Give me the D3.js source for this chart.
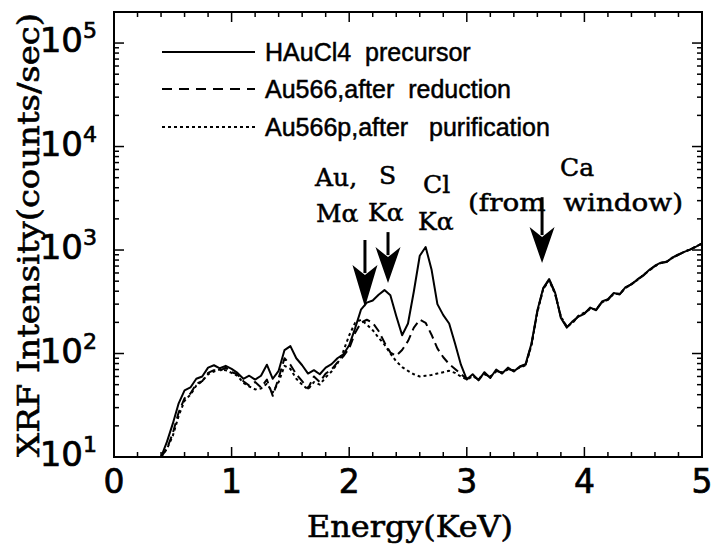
<!DOCTYPE html>
<html>
<head>
<meta charset="utf-8">
<script src="https://cdn.jsdelivr.net/npm/d3@7"></script>
<style>
    html, body { margin: 0; padding: 0; background: #fff; }
    #chart { width: 716px; height: 544px; }
</style>
</head>
<body>
<div id="chart"></div>
<script>
var energies = [0.40, 0.45, 0.50, 0.55, 0.60, 0.65, 0.70, 0.75, 0.80, 0.85, 0.90, 0.95,
    1.00, 1.05, 1.10, 1.15, 1.20, 1.25, 1.30, 1.35, 1.40, 1.45, 1.50, 1.55, 1.60, 1.65, 1.70, 1.75, 1.80, 1.85, 1.90, 1.95,
    2.00, 2.05, 2.10, 2.15, 2.20, 2.25, 2.30, 2.35, 2.40, 2.45, 2.50, 2.55, 2.60, 2.65, 2.70, 2.75, 2.80, 2.85, 2.90, 2.95,
    3.00, 3.05, 3.10, 3.15, 3.20, 3.25, 3.30, 3.35, 3.40, 3.45, 3.50, 3.55, 3.60, 3.65, 3.70, 3.75, 3.80, 3.85, 3.90, 3.95,
    4.00, 4.05, 4.10, 4.15, 4.20, 4.25, 4.30, 4.35, 4.40, 4.45, 4.50, 4.55, 4.60, 4.65, 4.70, 4.75, 4.80, 4.85, 4.90, 4.95,
    5.00];

var precursorCounts = [10, 14, 21, 33, 44, 47, 57, 60, 73, 77, 72, 76,
    71, 65, 57, 61, 56, 61, 78, 57, 68, 108, 118, 90, 77, 64, 69, 63, 73, 79, 90, 98,
    120, 175, 265, 310, 325, 370, 410, 365, 230, 150, 195, 400, 880, 1070, 650, 300, 235, 195, 125, 78,
    56, 63, 55, 66, 58, 70, 64, 73, 67, 75, 79, 125, 260, 430, 525, 390, 220, 178, 205, 228,
    242, 278, 262, 318, 335, 385, 372, 438, 465, 520, 565, 640, 705, 755, 765, 850, 905, 960, 1015, 1080,
    1160];

var reductionCounts = [10, 12, 17, 27, 37, 41, 51, 54, 65, 69, 68, 73,
    66, 63, 54, 49, 53, 47, 56, 39, 58, 90, 78, 63, 54, 46, 60, 53, 64, 70, 82, 94,
    112, 158, 198, 212, 198, 165, 128, 102, 95, 108, 132, 178, 212, 198, 152, 112, 92, 79, 71, 63,
    57, 61, 56, 64, 59, 68, 65, 71, 68, 74, 78, 122, 255, 425, 515, 385, 225, 180, 200, 230,
    245, 272, 265, 315, 330, 380, 375, 432, 468, 515, 570, 635, 700, 750, 770, 845, 900, 965, 1010, 1085,
    1150];

var purificationCounts = [10, 12, 16, 25, 35, 40, 49, 54, 63, 67, 70, 69,
    65, 61, 52, 48, 45, 46, 51, 42, 53, 76, 71, 57, 50, 45, 53, 50, 59, 67, 80, 105,
    150, 198, 212, 190, 168, 142, 122, 100, 84, 74, 68, 63, 60, 61, 62, 64, 66, 68, 65, 60,
    56, 60, 57, 63, 60, 67, 66, 70, 69, 73, 77, 120, 250, 420, 510, 380, 228, 182, 198, 232,
    248, 270, 268, 312, 332, 378, 378, 430, 470, 512, 572, 632, 698, 748, 775, 840, 905, 962, 1012, 1082,
    1152];

var seriesNames = ["HAuCl4  precursor", "Au566,after  reduction", "Au566p,after   purification"];
var xTickValues = [0, 1, 2, 3, 4, 5];
var yTickExponents = [1, 2, 3, 4, 5];

// arrows: energy, tail counts, tip counts
var arrowEnergies = [2.134, 2.33, 3.64];
var arrowTails = [1250, 1490, 3240];
var arrowTips = [281, 479, 748];

var XrfChart;
(function (XrfChart) {
    var Chart = (function () {
        function Chart() {
            this.svg = d3.select("#chart").append("svg").attr("width", 716).attr("height", 544);
            this.x = d3.scaleLinear().domain([0, 5]).range([114, 702]);
            this.y = d3.scaleLog().domain([10, Math.pow(10, 5.3)]).range([457, 12]);
            this.drawFrame();
            this.drawTicks();
            this.drawSeries();
            this.drawLegend();
            this.drawAnnotations();
        }

        Chart.prototype.drawFrame = function () {
            var x = this.x, y = this.y;
            this.svg.append("rect")
                .attr("x", x(0)).attr("y", y.range()[1])
                .attr("width", x(5) - x(0)).attr("height", y.range()[0] - y.range()[1])
                .attr("fill", "none").attr("stroke", "#000").attr("stroke-width", 2);
        };

        Chart.prototype.drawTicks = function () {
            var x = this.x, y = this.y, svg = this.svg;
            var top = y.range()[1], bottom = y.range()[0];
            var left = x(0), right = x(5);

            var xMinor = d3.range(0, 5.001, 0.2);
            var xg = svg.append("g").attr("stroke", "#000").attr("stroke-width", 1.5);
            xMinor.forEach(function (v) {
                var major = Math.abs(v - Math.round(v)) < 1e-6;
                var len = major ? 10 : 5;
                xg.append("line").attr("x1", x(v)).attr("x2", x(v)).attr("y1", bottom).attr("y2", bottom - len);
                xg.append("line").attr("x1", x(v)).attr("x2", x(v)).attr("y1", top).attr("y2", top + len);
            });

            var yg = svg.append("g").attr("stroke", "#000").attr("stroke-width", 1.5);
            for (var e = 1; e <= 5; e++) {
                for (var m = 1; m <= 9; m++) {
                    var v = m * Math.pow(10, e);
                    if (v > y.domain()[1]) continue;
                    var len = m === 1 ? 10 : 5;
                    yg.append("line").attr("x1", left).attr("x2", left + len).attr("y1", y(v)).attr("y2", y(v));
                    yg.append("line").attr("x1", right).attr("x2", right - len).attr("y1", y(v)).attr("y2", y(v));
                }
            }

            svg.append("g").selectAll("text").data(xTickValues).enter().append("text")
                .attr("x", function (d) { return x(d); })
                .attr("y", 493)
                .attr("text-anchor", "middle")
                .attr("font-family", "DejaVu Sans, sans-serif")
                .attr("font-size", 33)
                .attr("stroke", "#000").attr("stroke-width", 0.7)
                .text(function (d) { return d; });

            var ylab = svg.append("g").selectAll("text").data(yTickExponents).enter().append("text")
                .attr("x", 97)
                .attr("y", function (d) { return y(Math.pow(10, d)) + 9; })
                .attr("text-anchor", "end")
                .attr("font-family", "DejaVu Sans, sans-serif")
                .attr("font-size", 34)
                .attr("stroke", "#000").attr("stroke-width", 0.7);
            ylab.append("tspan").text("10");
            ylab.append("tspan").attr("font-size", 22).attr("dy", -14).text(function (d) { return d; });

            svg.append("text")
                .attr("x", 410).attr("y", 537)
                .attr("text-anchor", "middle")
                .attr("font-family", "DejaVu Serif, serif")
                .attr("font-size", 30)
                .attr("stroke", "#000").attr("stroke-width", 0.6)
                .attr("textLength", 206).attr("lengthAdjust", "spacingAndGlyphs")
                .text("Energy(KeV)");

            svg.append("text")
                .attr("transform", "translate(39,235) rotate(-90)")
                .attr("text-anchor", "middle")
                .attr("font-family", "DejaVu Serif, serif")
                .attr("font-size", 30)
                .attr("stroke", "#000").attr("stroke-width", 0.6)
                .attr("textLength", 444).attr("lengthAdjust", "spacingAndGlyphs")
                .text("XRF Intensity(counts/sec)");
        };

        Chart.prototype.drawSeries = function () {
            var x = this.x, y = this.y;
            var line = d3.line()
                .x(function (d) { return x(d[0]); })
                .y(function (d) { return y(d[1]); });
            var sets = [precursorCounts, reductionCounts, purificationCounts];
            for (var i = sets.length - 1; i >= 0; i--) {
                var pts = energies.map(function (e, k) { return [e, sets[i][k]]; });
                this.svg.append("path")
                    .attr("d", line(pts))
                    .attr("fill", "none")
                    .attr("stroke", "#000")
                    .attr("stroke-width", 2)
                    .attr("stroke-linejoin", "round")
                    .attr("stroke-dasharray", Chart.dashes[i]);
            }
        };

        Chart.prototype.drawLegend = function () {
            var g = this.svg.append("g");
            var rows = [52, 89, 127];
            seriesNames.forEach(function (name, i) {
                g.append("line")
                    .attr("x1", 162).attr("x2", 255)
                    .attr("y1", rows[i]).attr("y2", rows[i])
                    .attr("stroke", "#000").attr("stroke-width", 2)
                    .attr("stroke-dasharray", Chart.legendDashes[i]);
                g.append("text")
                    .attr("x", 265).attr("y", rows[i] + 9)
                    .attr("font-family", "Liberation Sans, Arial, sans-serif")
                    .attr("font-size", 25)
                    .attr("stroke", "#000").attr("stroke-width", 0.5)
                    .style("white-space", "pre")
                    .text(name);
            });
        };

        Chart.prototype.drawAnnotations = function () {
            var x = this.x, y = this.y, svg = this.svg;
            var labels = [
                { text: "Au,", x: 315, y: 186 },
                { text: "M\u03b1", x: 316, y: 222 },
                { text: "S", x: 379, y: 184 },
                { text: "K\u03b1", x: 368, y: 221 },
                { text: "Cl", x: 423, y: 193 },
                { text: "K\u03b1", x: 418, y: 230 },
                { text: "Ca", x: 560, y: 176 },
                { text: "(from  window)", x: 468, y: 211, len: 215 }
            ];
            labels.forEach(function (l) {
                var t = svg.append("text")
                    .attr("x", l.x).attr("y", l.y)
                    .attr("font-family", "DejaVu Serif, serif")
                    .attr("font-size", 25)
                    .attr("stroke", "#000").attr("stroke-width", 0.5)
                    .style("white-space", "pre")
                    .text(l.text);
                if (l.len) t.attr("textLength", l.len).attr("lengthAdjust", "spacingAndGlyphs");
            });

            var headLengths = [42, 36, 36];
            arrowEnergies.forEach(function (e, i) {
                var ax = x(e), tail = y(arrowTails[i]), tip = y(arrowTips[i]);
                var h = headLengths[i];
                svg.append("line")
                    .attr("x1", ax).attr("x2", ax)
                    .attr("y1", tail).attr("y2", tip - h + 8)
                    .attr("stroke", "#000").attr("stroke-width", 3);
                svg.append("path")
                    .attr("d", "M" + ax + "," + tip +
                        " L" + (ax - 12.5) + "," + (tip - h) +
                        " L" + ax + "," + (tip - h + 10) +
                        " L" + (ax + 12.5) + "," + (tip - h) + " Z")
                    .attr("fill", "#000");
            });
        };

        Chart.dashes = [null, "9,5", "3,3"];
        Chart.legendDashes = [null, "10,7", "3,3"];
        return Chart;
    })();
    XrfChart.Chart = Chart;
})(XrfChart || (XrfChart = {}));

window.onload = function () {
    var chart = new XrfChart.Chart();
};
</script>
</body>
</html>
